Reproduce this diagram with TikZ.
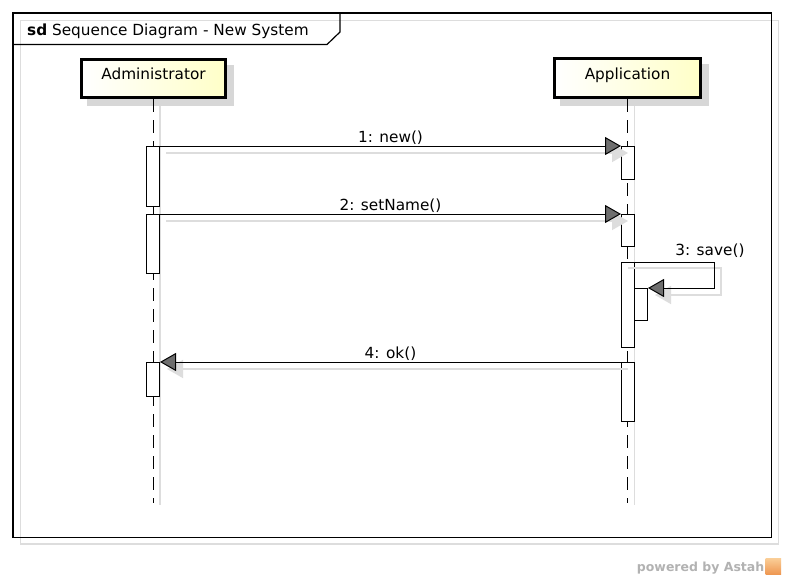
\documentclass[tikz,border=0pt]{standalone}
\usepackage{fontspec}
\setmainfont{DejaVu Sans}
\usetikzlibrary{arrows.meta,backgrounds}
\definecolor{shd}{RGB}{221,221,221}
\definecolor{boxshd}{RGB}{215,215,215}
\definecolor{ylw}{RGB}{255,255,200}
\definecolor{headfill}{RGB}{110,110,110}
\definecolor{brand}{RGB}{178,178,178}
\definecolor{logoA}{RGB}{250,205,150}
\definecolor{logoB}{RGB}{238,150,80}
\begin{document}
\begin{tikzpicture}[x=1pt,y=-1pt,
  font=\fontsize{15.3}{18}\selectfont,
  participant/.style={draw, line width=3pt, left color=white, right color=ylw, inner sep=0pt, text height=6pt, text depth=3pt},
  actbar/.style={draw, fill=white, line width=1pt, minimum width=13pt, inner sep=0pt, anchor=north},
  lifeline/.style={line width=1pt, dash pattern=on 13pt off 8pt},
  shadowline/.style={draw=shd, line width=1.5pt},
  msg/.style={line width=1pt, -{Triangle[length=16pt,width=18pt,fill=headfill]}},
  msgshadow/.style={draw=shd, line width=1.5pt, -{Triangle[length=16pt,width=18pt,fill=shd]}},
  msglabel/.style={inner sep=0pt, anchor=base, yshift=3.5pt},
]
\useasboundingbox (0,0) rectangle (785,578);
% frame
\draw[shd, line width=1.2pt] (20.5,20.5) rectangle (778.5,544);
\draw[line width=1.5pt] (13,13) rectangle (771.5,537.5);
\draw[line width=1.2pt] (13,44.5) -- (327,44.5) -- (340,32) -- (340,13);
\node[anchor=base west, inner sep=0pt] (title) at (27,36) {\textbf{sd} Sequence Diagram - New System};

% participants
\node[participant, minimum width=144pt, minimum height=38pt] (adm) at (153.5,78.5) {Administrator\hspace{8pt}};
\node[participant, minimum width=146pt, minimum height=39pt] (app) at (627.5,78) {Application\hspace{8pt}};

\begin{scope}[on background layer]
\fill[white] (0,0) rectangle (785,578);
\fill[boxshd] ([shift={(7,7)}]adm.north west) rectangle ([shift={(7,7)}]adm.south east);
\fill[boxshd] ([shift={(7,7)}]app.north west) rectangle ([shift={(7,7)}]app.south east);
\end{scope}

% lifelines
\coordinate (admEnd) at (153.5,503);
\coordinate (appEnd) at (627.5,503);
\coordinate (admShEnd) at (160,505);
\coordinate (appShEnd) at (634.5,505);
\draw[shadowline] ([shift={(6.5,7)}]adm.south) -- (admShEnd);
\draw[shadowline] ([shift={(7,7)}]app.south) -- (appShEnd);
\draw[lifeline] (adm.south) -- (admEnd);
\draw[lifeline] (app.south) -- (appEnd);

% activation bars
\node[actbar, minimum height=60pt] (a1) at (153,146) {};
\node[actbar, minimum height=59pt] (a2) at (153,214) {};
\node[actbar, minimum height=34pt] (a3) at (153,362) {};
\node[actbar, minimum height=33pt] (b1) at (628,146) {};
\node[actbar, minimum height=32pt] (b2) at (628,214) {};
\node[actbar, minimum height=85pt] (b3) at (628,262) {};
\node[actbar, minimum height=32pt] (b4) at (641,288) {};
\node[actbar, minimum height=59pt] (b5) at (628,362) {};

\coordinate (sc) at (714,262);

% message shadows
\draw[msgshadow] ([shift={(6,7)}]a1.north east) -- ([shift={(7,7)}]b1.north west);
\draw[msgshadow] ([shift={(6,7)}]a2.north east) -- ([shift={(7,7)}]b2.north west);
\draw[msgshadow] ([shift={(-7,6)}]b3.north east) -- ([shift={(7,6)}]sc) |- ([shift={(7,7)}]b4.north east);
\draw[msgshadow] ([shift={(7,7)}]b5.north west) -- ([shift={(7,7)}]a3.north east);

% messages
\draw[msg] (a1.north east) -- node[msglabel, midway] {1: new()} (b1.north west);
\draw[msg] (a2.north east) -- node[msglabel, midway] {2: setName()} (b2.north west);
\draw[msg] (b3.north east) -- node[pos=1, inner sep=0pt, anchor=base east, xshift=31pt, yshift=6.5pt] {3: save()} (sc) |- (b4.north east);
\draw[msg] (b5.north west) -- node[msglabel, midway] {4: ok()} (a3.north east);

% branding
\node[anchor=base east, inner sep=0pt, font=\bfseries\fontsize{12.5}{14}\selectfont, text=brand] (pw) at (764.5,571) {powered by Astah};
\shade[top color=logoA, bottom color=logoB] (765.5,558.5) rectangle (781,574.5);
\end{tikzpicture}
\end{document}
